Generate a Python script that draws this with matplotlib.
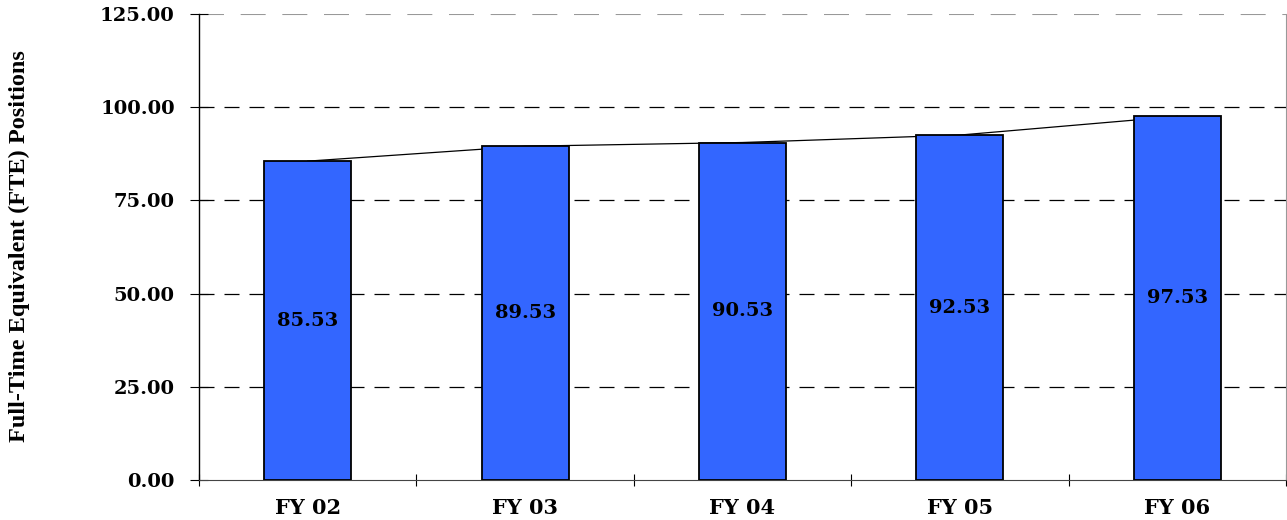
import matplotlib
matplotlib.use("Agg")
import matplotlib.pyplot as plt

years = ["FY 02", "FY 03", "FY 04", "FY 05", "FY 06"]
fte = [85.53, 89.53, 90.53, 92.53, 97.53]
yticks = [0, 25, 50, 75, 100, 125]

BLUE = "#3366FF"
WIDE = ["DejaVu Serif"]
plt.rcParams["font.family"] = WIDE
plt.rcParams["font.weight"] = "bold"

fig = plt.figure(figsize=(12.87, 5.2), dpi=100)
ax = fig.add_axes([199 / 1287, 40 / 520, 1087 / 1287, 466 / 520])

x = list(range(len(years)))
ax.plot(x, fte, color="black", lw=0.9, zorder=2)
ax.bar(x, fte, width=0.4, color=BLUE, edgecolor="black", lw=1.3, zorder=3)
for xi, v in zip(x, fte):
    ax.text(xi, v / 2, f"{v:.2f}", ha="center", va="center", fontsize=14, fontweight="bold", zorder=4)

ax.set_xlim(-0.5, len(years) - 0.5)
ax.set_ylim(0, 125)
ax.set_yticks(yticks)
ax.set_yticklabels([f"{t:.2f}" for t in yticks], fontsize=14, fontweight="bold")
ax.set_xticks(x)
ax.set_xticklabels(years, fontsize=15, fontweight="bold")
ax.set_xticks([i - 0.5 for i in range(len(years) + 1)], minor=True)
ax.tick_params(axis="x", which="major", length=0, pad=13)
ax.tick_params(axis="x", which="minor", direction="inout", length=9, width=0.8)
ax.tick_params(axis="y", direction="inout", length=13, width=0.8, pad=11)

for t in yticks[1:-1]:
    ax.axhline(t, color="black", lw=0.9, ls=(0, (12, 8)), zorder=1)
ax.axhline(125, color="#999999", lw=1.5, ls=(0, (12, 8)), zorder=1)

ax.spines["top"].set_visible(False)
ax.spines["right"].set_color("#999999")
ax.spines["left"].set_linewidth(1.0)
ax.spines["bottom"].set_color("#444444")

fig.text(0.0148, 0.527, "Full-Time Equivalent (FTE) Positions", rotation=90, ha="center", va="center",
         fontsize=17.5, fontweight="bold", family=["Liberation Serif", "DejaVu Serif"])

fig.savefig("out.png", dpi=100)
